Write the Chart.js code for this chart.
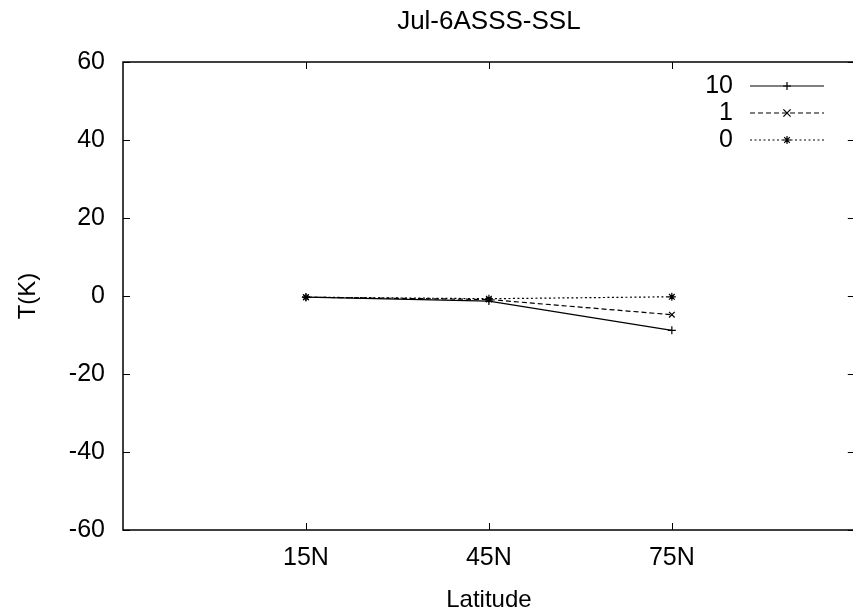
<!DOCTYPE html>
<html>
<head>
<meta charset="utf-8">
<script src="https://cdn.jsdelivr.net/npm/chart.js@4.4.0/dist/chart.umd.min.js"></script>
<style>
  html, body { margin: 0; padding: 0; background: #fff; overflow: hidden; }
  canvas { display: block; }
</style>
</head>
<body>
<canvas id="chart" width="860" height="615"></canvas>
<script>
// Chart data
const chartTitle = 'Jul-6ASSS-SSL';
const xTitle = 'Latitude';
const yTitle = 'T(K)';
const latitudes = ['15N', '45N', '75N'];
const seriesNames = ['10', '1', '0'];
const series10 = [-0.3, -1.3, -8.8];
const series1 = [-0.3, -0.9, -4.8];
const series0 = [-0.3, -0.7, -0.2];
const yTicks = [-60, -40, -20, 0, 20, 40, 60];

const FONT = "'Liberation Sans', Arial, Helvetica, sans-serif";
Chart.defaults.font.family = FONT;
Chart.defaults.color = '#000';

// x positions: categories sit at 1, 2, 3 on a 0..4 axis (gnuplot style)
function toPoints(values) {
  return values.map((v, i) => ({ x: i + 1, y: v }));
}

const styles = [
  { dash: [], point: 'cross' },
  { dash: [5, 3], point: 'crossRot' },
  { dash: [2, 2.5], point: 'star' }
];
const allSeries = [series10, series1, series0];

const datasets = allSeries.map((vals, i) => ({
  label: seriesNames[i],
  data: toPoints(vals),
  borderColor: '#000',
  backgroundColor: '#000',
  borderWidth: 1.2,
  borderDash: styles[i].dash,
  pointStyle: styles[i].point,
  pointRadius: 4,
  pointBorderWidth: 1.2,
  pointBorderColor: '#000',
  fill: false,
  tension: 0
}));

// small helper for legend markers
function drawMarker(ctx, style, x, y, r) {
  ctx.beginPath();
  if (style === 'cross' || style === 'star') {
    ctx.moveTo(x - r, y); ctx.lineTo(x + r, y);
    ctx.moveTo(x, y - r); ctx.lineTo(x, y + r);
  }
  if (style === 'crossRot' || style === 'star') {
    const s = style === 'star' ? r * Math.SQRT1_2 : r * 0.9;
    ctx.moveTo(x - s, y - s); ctx.lineTo(x + s, y + s);
    ctx.moveTo(x - s, y + s); ctx.lineTo(x + s, y - s);
  }
  ctx.stroke();
}

const framePlugin = {
  id: 'frame',
  afterDraw(chart) {
    const { ctx, chartArea: a, scales: { x, y } } = chart;
    ctx.save();
    ctx.strokeStyle = '#000';
    ctx.lineWidth = 1.5;
    ctx.setLineDash([]);
    ctx.strokeRect(a.left, a.top, a.right - a.left, a.bottom - a.top);

    // inward ticks on all four sides
    ctx.lineWidth = 1;
    ctx.beginPath();
    y.ticks.forEach(t => {
      const py = Math.round(y.getPixelForValue(t.value)) + 0.5;
      ctx.moveTo(a.left, py); ctx.lineTo(a.left + 7, py);
      ctx.moveTo(a.right, py); ctx.lineTo(a.right - 7, py);
    });
    x.ticks.forEach(t => {
      const px = Math.round(x.getPixelForValue(t.value)) + 0.5;
      ctx.moveTo(px, a.bottom); ctx.lineTo(px, a.bottom - 7);
      ctx.moveTo(px, a.top); ctx.lineTo(px, a.top + 7);
    });
    ctx.stroke();

    // titles
    ctx.fillStyle = '#000';
    ctx.textAlign = 'center';
    ctx.textBaseline = 'middle';
    ctx.font = '26px ' + FONT;
    ctx.fillText(chartTitle, (a.left + a.right) / 2, 22);
    ctx.font = '24px ' + FONT;
    ctx.fillText(xTitle, (a.left + a.right) / 2, 600);
    ctx.save();
    ctx.translate(28, (a.top + a.bottom) / 2);
    ctx.rotate(-Math.PI / 2);
    ctx.fillText(yTitle, 0, 0);
    ctx.restore();

    // legend, top right inside the frame
    ctx.font = '25px ' + FONT;
    ctx.textAlign = 'right';
    chart.data.datasets.forEach((ds, i) => {
      const ly = 86 + i * 27;
      ctx.fillText(ds.label, 733, ly);
      ctx.lineWidth = ds.borderWidth;
      ctx.setLineDash(ds.borderDash);
      ctx.beginPath();
      ctx.moveTo(750, ly); ctx.lineTo(824, ly);
      ctx.stroke();
      ctx.setLineDash([]);
      drawMarker(ctx, ds.pointStyle, 787, ly, 4);
    });
    ctx.restore();
  }
};

new Chart(document.getElementById('chart'), {
  type: 'line',
  data: { datasets },
  options: {
    responsive: false,
    animation: false,
    devicePixelRatio: 1,
    layout: { padding: { top: 62, right: 2, bottom: 0, left: 0 } },
    plugins: { legend: { display: false }, tooltip: { enabled: false } },
    scales: {
      x: {
        type: 'linear',
        min: 0,
        max: 4,
        grid: { display: false, drawTicks: false },
        border: { display: false },
        afterBuildTicks: s => { s.ticks = latitudes.map((_, i) => ({ value: i + 1 })); },
        afterFit: s => { s.height = 85; },
        ticks: {
          font: { size: 25 },
          color: '#000',
          padding: 13,
          maxRotation: 0,
          autoSkip: false,
          callback: v => latitudes[v - 1]
        }
      },
      y: {
        min: -60,
        max: 60,
        grid: { display: false, drawTicks: false },
        border: { display: false },
        afterBuildTicks: s => { s.ticks = yTicks.map(v => ({ value: v })); },
        afterFit: s => { s.width = 123; },
        ticks: { font: { size: 25 }, color: '#000', padding: 18 }
      }
    }
  },
  plugins: [framePlugin]
});
</script>
</body>
</html>
